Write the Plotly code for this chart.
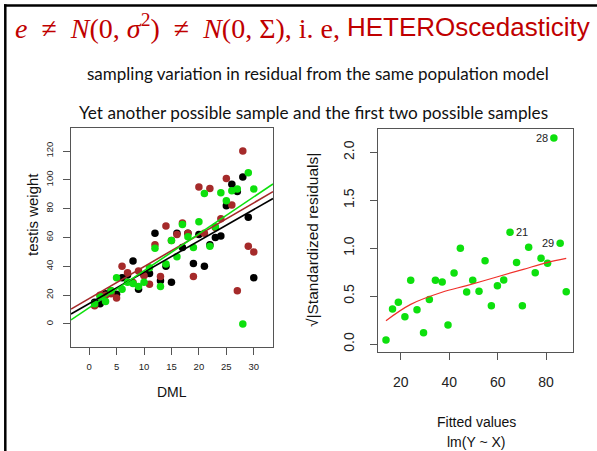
import numpy as np
import plotly.graph_objects as go

W, H = 597, 451

# ---------------- data ----------------
dml = list(range(1, 31))
weight_black = [15, 14, 21, 23, 20.6, 32, 34, 43.7, 24, 34,
                35, 63, 30, 40, 29, 63, 53, 63, 42, 62,
                40, 55, 60, 61, 82, 97, 92, 102, 74, 32]
weight_brown = [12.7, 20, 20, 21, 18, 40, 35.6, 28.7, 36.7, 33.5,
                27.5, 55, 33, 68, 58, 62, 70, 63, 33, 95,
                63, 94, 67, 73, 101, 82.5, 23, 120, 54, 50]
weight_green = [14, 19, 15.5, 23, 32, 24, 29, 28, 26, 29,
                39, 52.5, 26, 41.6, 58, 46.7, 69, 60.6, 53, 71,
                90.6, 54, 67.5, 91, 85.5, 92.5, 93.6, 0, 105, 93.6]

fitted = [13.9, 16.6, 19.0, 21.7, 24.1, 26.7, 29.4, 31.8, 34.3, 37.1,
          39.5, 42.0, 44.6, 47.2, 49.7, 52.3, 54.8, 57.4, 59.9, 62.5,
          65.1, 67.8, 70.2, 72.8, 75.5, 77.9, 80.6, 83.2, 85.8, 88.3]
sqrt_std_resid = [0.042, 0.365, 0.435, 0.285, 0.665, 0.358, 0.118, 0.466, 0.665, 0.647,
                  0.198, 0.741, 0.999, 0.543, 0.665, 0.55, 0.87, 0.40, 0.609, 0.668,
                  1.166, 0.852, 0.40, 1.009, 0.745, 0.894, 0.842, 2.15, 1.051, 0.546]
smooth_x = [13.9, 24.1, 37.0, 47.2, 59.6, 70.6, 80.3, 88.3]
smooth_y = [0.244, 0.414, 0.54, 0.61, 0.70, 0.78, 0.85, 0.894]
outlier_ids = [21, 28, 29]

left_xticks = [0, 5, 10, 15, 20, 25, 30]
left_yticks = [0, 20, 40, 60, 80, 100, 120]
right_xticks = [20, 40, 60, 80]
right_yticks = [0.0, 0.5, 1.0, 1.5, 2.0]

# ---------------- helpers ----------------
def px(x):
    return x / W

def py(y):
    return 1 - y / H

BLACK = "#000000"
BROWN = "#A52A2A"
GREEN = "#0DE00D"
XR = [-3.3, 33.5]

fig = go.Figure()

for ys, col in [(weight_black, BLACK), (weight_brown, BROWN), (weight_green, GREEN)]:
    fig.add_trace(go.Scatter(x=dml, y=ys, mode="markers",
                             marker=dict(color=col, size=7.5, line=dict(width=0)),
                             xaxis="x", yaxis="y", showlegend=False, cliponaxis=True))

for ys, col in [(weight_black, BLACK), (weight_brown, BROWN), (weight_green, GREEN)]:
    b, a = np.polyfit(dml, ys, 1)
    xs = np.array(XR)
    fig.add_trace(go.Scatter(x=xs, y=a + b * xs, mode="lines",
                             line=dict(color=col, width=1.6),
                             xaxis="x", yaxis="y", showlegend=False, hoverinfo="skip"))

fig.add_trace(go.Scatter(x=fitted, y=sqrt_std_resid, mode="markers",
                         marker=dict(color=GREEN, size=7.5, line=dict(width=0)),
                         xaxis="x2", yaxis="y2", showlegend=False))
fig.add_trace(go.Scatter(x=smooth_x, y=smooth_y, mode="lines",
                         line=dict(color="#F0302A", width=1.2, shape="spline"),
                         xaxis="x2", yaxis="y2", showlegend=False))

annotations = []
for i in outlier_ids:
    xv, yv = fitted[i - 1], sqrt_std_resid[i - 1]
    left_side = (i == 21)
    annotations.append(dict(x=xv, y=yv, xref="x2", yref="y2", text=str(i),
                            xanchor="left" if left_side else "right", yanchor="middle",
                            xshift=4 if left_side else -4, showarrow=False,
                            font=dict(family="Liberation Sans", size=11, color="#222")))

def txt(x, y, text, size, family="Liberation Sans", color="#111", angle=0, xanchor="center"):
    annotations.append(dict(x=px(x), y=py(y), xref="paper", yref="paper", text=text,
                            showarrow=False, textangle=angle, xanchor=xanchor, yanchor="middle",
                            font=dict(family=family, size=size, color=color)))

RED = "#C00000"
nb = "\u00a0"
math = (f"<i>e</i>{nb}{nb}≠{nb}{nb}<i>N</i>(0,{nb}<i>σ</i><sup>2</sup>){nb}{nb}≠{nb}{nb}"
        f"<i>N</i>(0,{nb}Σ),{nb}i.{nb}e,")
txt(13, 27, math, 28, family="Liberation Serif", color=RED, xanchor="left")
txt(592, 27, "HETEROscedasticity", 26, color=RED, xanchor="right")
txt(318, 73, "sampling variation in residual from the same population model", 17, family="Lato", color="#111")
txt(313, 113, "Yet another possible sample and the first two possible samples", 17.2, family="Lato", color="#111")

txt(172, 392, "DML", 14)
txt(32, 215, "testis weight", 15, angle=-90)
txt(313, 240, "√|Standardized residuals|", 15.5, angle=-90)
txt(476, 422, "Fitted values", 14)
txt(476, 442, "lm(Y ~ X)", 14)

axis_common = dict(showline=True, mirror=True, linecolor="#555", linewidth=1,
                   ticks="outside", ticklen=7, tickcolor="#555", tickwidth=1,
                   showgrid=False, zeroline=False, fixedrange=True)

fig.update_layout(
    width=W, height=H,
    margin=dict(l=0, r=0, t=0, b=0),
    paper_bgcolor="white", plot_bgcolor="white",
    showlegend=False,
    xaxis=dict(domain=[px(71), px(273)], range=XR, tickvals=left_xticks,
               tickfont=dict(family="Liberation Sans", size=9.5, color="#222"),
               ticklabelstandoff=4, anchor="y", **axis_common),
    yaxis=dict(domain=[py(347), py(128)], range=[-16, 136], tickvals=left_yticks,
               tickangle=-90, tickfont=dict(family="Liberation Sans", size=9.5, color="#222"),
               ticklabelstandoff=6, anchor="x", **axis_common),
    xaxis2=dict(domain=[px(378), px(573)], range=[10.6, 91.1], tickvals=right_xticks,
                tickfont=dict(family="Liberation Sans", size=14, color="#222"),
                ticklabelstandoff=10, anchor="y2", **axis_common),
    yaxis2=dict(domain=[py(352), py(129)], range=[-0.083, 2.244], tickvals=right_yticks,
                tickformat=".1f", tickangle=-90,
                tickfont=dict(family="Liberation Sans", size=14, color="#222"),
                ticklabelstandoff=10, anchor="x2", **axis_common),
    annotations=annotations,
    shapes=[
        dict(type="line", xref="paper", yref="paper", x0=px(4), x1=1.01, y0=py(5.5), y1=py(5.5),
             line=dict(color="#000", width=2.5)),
        dict(type="line", xref="paper", yref="paper", x0=px(5.3), x1=px(5.3), y0=py(4.3), y1=-0.01,
             line=dict(color="#000", width=2.5)),
    ],
)

fig.write_html("out.html", config={"displayModeBar": False},
               post_script="document.body.style.margin='0';document.body.style.overflow='hidden';")
